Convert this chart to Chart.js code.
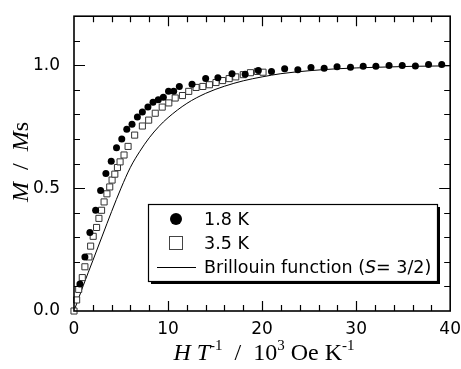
<!DOCTYPE html>
<html>
<head>
<meta charset="utf-8">
<script src="https://cdn.jsdelivr.net/npm/chart.js@4.4.1/dist/chart.umd.min.js"></script>
<style>
  body { margin: 0; background: #fff; }
  #wrap { width: 461px; height: 369px; }
</style>
</head>
<body>
<div id="wrap"><canvas id="myChart" width="461" height="369"></canvas></div>
<script>
// 1.8 K data (H/T in 10^3 Oe/K, M/Ms)
const field18 = [0.63, 1.16, 1.69, 2.3, 2.83, 3.39, 3.96, 4.52, 5.08, 5.61, 6.17, 6.74, 7.27, 7.86, 8.4, 8.96, 9.5, 10.05, 10.6, 11.2,
  12.55, 14.0, 15.3, 16.8, 18.2, 19.6, 21.0, 22.4, 23.8, 25.2, 26.6, 27.97, 29.4, 30.75, 32.1, 33.5, 34.9, 36.3, 37.7, 39.1];
const m18 = [0.11, 0.22, 0.32, 0.41, 0.49, 0.56, 0.61, 0.665, 0.70, 0.74, 0.76, 0.79, 0.81, 0.83, 0.85, 0.86, 0.87, 0.894, 0.894, 0.914,
  0.923, 0.946, 0.949, 0.966, 0.964, 0.979, 0.975, 0.986, 0.982, 0.991, 0.988, 0.994, 0.992, 0.996, 0.996, 0.999, 0.999, 0.997, 1.003, 1.003];

// 3.5 K data
const field35 = [0, 0.28, 0.5, 0.88, 1.16, 1.59, 1.77, 2.04, 2.4, 2.65, 2.93, 3.2, 3.5, 3.8, 4.05, 4.34, 4.62, 4.9, 5.32, 5.75,
  6.45, 7.27, 7.94, 8.64, 9.38, 10.08, 10.76, 11.53, 12.2, 12.98, 13.7, 14.4, 15.1, 15.8, 16.5, 17.2, 18.0, 18.76, 19.5, 20.1];
const m35 = [0, 0.045, 0.088, 0.136, 0.18, 0.22, 0.264, 0.304, 0.34, 0.377, 0.41, 0.444, 0.477, 0.505, 0.533, 0.557, 0.584, 0.607, 0.635, 0.67,
  0.716, 0.753, 0.777, 0.805, 0.83, 0.847, 0.867, 0.877, 0.894, 0.91, 0.914, 0.921, 0.93, 0.938, 0.946, 0.953, 0.962, 0.97, 0.975, 0.972];

// Brillouin function (S = 3/2)
const fieldB = [0, 1, 2, 3, 4, 5, 6, 7, 8, 9, 10, 12, 14, 16, 18, 20, 22, 25, 28, 32, 36, 40];
const mB = [0, 0.105, 0.205, 0.305, 0.405, 0.50, 0.585, 0.65, 0.705, 0.75, 0.787, 0.845, 0.886, 0.915, 0.937, 0.953, 0.966, 0.978, 0.986, 0.992, 0.996, 0.998];

const xTicks = [0, 10, 20, 30, 40];
const yTicks = [0.0, 0.5, 1.0];
const legendLabels = ['1.8 K', '3.5 K', 'Brillouin function ('];

const toXY = (xs, ys) => xs.map((x, i) => ({ x: x, y: ys[i] }));

const serif = '"Liberation Serif", "Times New Roman", serif';
const sans = '"DejaVu Sans", sans-serif';

// draw a run of text pieces with different fonts / offsets, centered on cx
function richText(ctx, parts, cx, y) {
  let w = 0;
  parts.forEach(p => { ctx.font = p.f; w += ctx.measureText(p.t).width; });
  let x = cx - w / 2;
  parts.forEach(p => {
    ctx.font = p.f;
    ctx.fillText(p.t, x, y + (p.dy || 0));
    x += ctx.measureText(p.t).width;
  });
}

const decor = {
  id: 'decor',
  afterDraw(chart) {
    const ctx = chart.ctx, a = chart.chartArea;
    const xs = chart.scales.x, ys = chart.scales.y;
    ctx.save();
    ctx.strokeStyle = '#000';
    ctx.fillStyle = '#000';

    // frame
    ctx.lineWidth = 1.6;
    ctx.strokeRect(a.left, a.top, a.width, a.height);

    // inward ticks on all sides
    ctx.lineWidth = 1.2;
    ctx.beginPath();
    for (let v = 2; v < 40; v += 2) {
      const px = Math.round(xs.getPixelForValue(v)) + 0.5;
      const len = v % 10 === 0 ? 10 : 6;
      ctx.moveTo(px, a.bottom); ctx.lineTo(px, a.bottom - len);
      ctx.moveTo(px, a.top); ctx.lineTo(px, a.top + len);
    }
    for (let i = 1; i < 12; i++) {
      const py = Math.round(ys.getPixelForValue(i / 10)) + 0.5;
      const len = i % 5 === 0 ? 11 : 6;
      ctx.moveTo(a.left, py); ctx.lineTo(a.left + len, py);
      ctx.moveTo(a.right, py); ctx.lineTo(a.right - len, py);
    }
    ctx.stroke();

    // axis titles
    ctx.textBaseline = 'alphabetic';
    const big = '24px ' + serif, bigI = 'italic 24px ' + serif, sup = '15px ' + serif;
    richText(ctx, [
      { t: 'H', f: bigI }, { t: ' ', f: big }, { t: 'T', f: bigI }, { t: '-1', f: sup, dy: -10 },
      { t: '  /  ', f: big }, { t: '10', f: big }, { t: '3', f: sup, dy: -10 },
      { t: ' Oe K', f: big }, { t: '-1', f: sup, dy: -10 }
    ], 264, 360);

    ctx.save();
    ctx.translate(28, 162);
    ctx.rotate(-Math.PI / 2);
    const yb = '24px ' + serif, ybI = 'italic 24px ' + serif;
    richText(ctx, [
      { t: 'M', f: ybI }, { t: '  /  ', f: yb }, { t: 'M', f: ybI }, { t: 's', f: yb }
    ], 0, 0);
    ctx.restore();

    // legend box with drop shadow
    const lx = 148, ly = 204, lw = 289, lh = 77;
    ctx.fillRect(lx + 3, ly + 3, lw, lh);
    ctx.fillStyle = '#fff';
    ctx.fillRect(lx, ly, lw, lh);
    ctx.lineWidth = 1.2;
    ctx.strokeRect(lx + 0.5, ly + 0.5, lw, lh);

    ctx.fillStyle = '#000';
    ctx.beginPath();
    ctx.arc(176, 219, 6, 0, Math.PI * 2);
    ctx.fill();
    ctx.lineWidth = 1;
    ctx.strokeStyle = '#444';
    ctx.strokeRect(169.5, 236.5, 13, 13);
    ctx.strokeStyle = '#000';
    ctx.beginPath();
    ctx.moveTo(157, 267.5); ctx.lineTo(196, 267.5);
    ctx.stroke();

    ctx.textBaseline = 'middle';
    const lf = '17.5px ' + sans;
    ctx.font = lf;
    ctx.fillText(legendLabels[0], 204, 220);
    ctx.fillText(legendLabels[1], 204, 244);
    let tx = 204;
    ctx.fillText(legendLabels[2], tx, 268);
    tx += ctx.measureText(legendLabels[2]).width;
    ctx.font = 'italic ' + lf;
    ctx.fillText('S', tx, 268);
    tx += ctx.measureText('S').width;
    ctx.font = lf;
    ctx.fillText('= 3/2)', tx, 268);

    ctx.restore();
  }
};

const data = {
  datasets: [
    {
      label: 'Brillouin function (S= 3/2)',
      data: toXY(fieldB, mB),
      borderColor: '#000',
      borderWidth: 1,
      pointRadius: 0,
      showLine: true,
      cubicInterpolationMode: 'monotone',
      order: 3
    },
    {
      label: '3.5 K',
      data: toXY(field35, m35),
      pointStyle: 'rect',
      pointRadius: 4.3,
      backgroundColor: '#fff',
      borderColor: '#333',
      borderWidth: 1,
      showLine: false,
      clip: false,
      order: 2
    },
    {
      label: '1.8 K',
      data: toXY(field18, m18),
      pointStyle: 'circle',
      pointRadius: 3.5,
      backgroundColor: '#000',
      borderColor: '#000',
      borderWidth: 0,
      showLine: false,
      clip: false,
      order: 1
    }
  ]
};

const config = {
  type: 'scatter',
  data: data,
  options: {
    responsive: false,
    animation: false,
    devicePixelRatio: 1,
    layout: { padding: { left: 0, top: 15, right: 9, bottom: 0 } },
    plugins: {
      legend: { display: false },
      tooltip: { enabled: false }
    },
    scales: {
      x: {
        type: 'linear',
        min: 0,
        max: 40,
        grid: { display: false },
        border: { display: false },
        afterBuildTicks: s => { s.ticks = xTicks.map(v => ({ value: v })); },
        afterFit: s => { s.height = 58; },
        ticks: {
          padding: 0,
          color: '#000',
          font: { family: 'DejaVu Sans', size: 17 },
          callback: v => String(v)
        }
      },
      y: {
        type: 'linear',
        min: 0,
        max: 1.2,
        grid: { display: false },
        border: { display: false },
        afterBuildTicks: s => { s.ticks = yTicks.map(v => ({ value: v })); },
        afterFit: s => { s.width = 74; },
        ticks: {
          padding: 6,
          color: '#000',
          font: { family: 'DejaVu Sans', size: 17 },
          callback: v => v.toFixed(1)
        }
      }
    }
  },
  plugins: [decor]
};

const myChart = new Chart(document.getElementById('myChart'), config);
</script>
</body>
</html>
